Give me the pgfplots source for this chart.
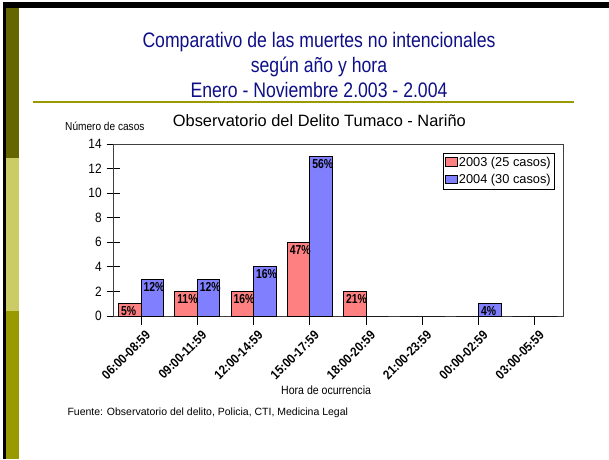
\documentclass[border=0pt]{standalone}
\usepackage{fontspec}
\usepackage{pgfplots}
\pgfplotsset{compat=1.18}
\setmainfont{Liberation Sans}
\newfontfamily\narrowA{Liberation Sans}[FakeStretch=0.84]
\newfontfamily\narrowB{Liberation Sans}[FakeStretch=0.88]
\newfontfamily\narrowC{Liberation Sans}[FakeStretch=0.80]
\definecolor{titleblue}{RGB}{15,15,135}
\definecolor{olivedark}{HTML}{666600}
\definecolor{olivepale}{HTML}{CCCC66}
\definecolor{olivemid}{HTML}{999900}
\definecolor{barred}{HTML}{FF8080}
\definecolor{barblue}{HTML}{8080FF}
\begin{document}
\begin{tikzpicture}
\useasboundingbox (0,0) rectangle (609pt,459pt);
\begin{scope}[x=1pt,y=1pt]
\fill[white] (0,0) rectangle (609,459);
% slide decorations
\fill[black] (3,451) rectangle (609,457.3);
\fill[black] (2.7,0) rectangle (6,457.3);
\fill[olivedark] (6,301) rectangle (19,451);
\fill[olivepale] (6,148) rectangle (19,301);
\fill[olivemid] (6,0) rectangle (19,148);
\draw[olivemid, line width=1.5pt] (33,357) -- (574,357);
% titles
\node[anchor=base, text=titleblue, font=\narrowA\fontsize{21}{24}\selectfont, inner sep=0] at (319,411) {Comparativo de las muertes no intencionales};
\node[anchor=base, text=titleblue, font=\narrowA\fontsize{21}{24}\selectfont, inner sep=0] at (319,386.5) {según año y hora};
\node[anchor=base, text=titleblue, font=\narrowA\fontsize{21}{24}\selectfont, inner sep=0] at (319,362) {Enero - Noviembre 2.003 - 2.004};
\node[anchor=base west, font=\fontsize{16.4}{19}\selectfont, inner sep=0] at (172.7,332.5) {Observatorio del Delito Tumaco - Nariño};
\node[anchor=base west, font=\narrowB\fontsize{11.5}{13}\selectfont, inner sep=0] at (65,328.7) {Número de casos};
\node[anchor=base west, font=\narrowB\fontsize{12}{14}\selectfont, inner sep=0] at (281,65) {Hora de ocurrencia};
\node[anchor=base west, font=\fontsize{10.5}{12}\selectfont, inner sep=0] at (67.3,43.5) {Fuente: Observatorio del delito, Policia, CTI, Medicina Legal};
\end{scope}
\begin{axis}[
  at={(113pt,143pt)}, anchor=south west,
  scale only axis, width=450pt, height=172pt,
  xmin=-0.5, xmax=7.5, ymin=0, ymax=14,
  ybar=0pt, bar width=22.5pt,
  axis line style={black!75, line width=0.8pt},
  xtick={0,...,7},
  xticklabels={06:00-08:59,09:00-11:59,12:00-14:59,15:00-17:59,18:00-20:59,21:00-23:59,00:00-02:59,03:00-05:59},
  ytick={0,2,...,14},
  xtick pos=bottom, ytick pos=left,
  xtick align=outside, ytick align=center,
  xtick style={black, line width=0.8pt, /pgfplots/major tick length=9pt},
  ytick style={black, line width=0.8pt, /pgfplots/major tick length=13pt},
  /pgf/number format/assume math mode=true,
  yticklabel style={font=\narrowB\fontsize{13.5}{15}\selectfont, inner sep=0pt, xshift=-9pt},
  xticklabel style={font=\narrowB\bfseries\fontsize{13}{15}\selectfont, rotate=45, anchor=east, inner sep=0pt, xshift=-4pt, yshift=-14pt},
  point meta=explicit symbolic,
  nodes near coords,
  every node near coord/.append style={anchor=north west, xshift=-9.25pt, yshift=-2.5pt, inner sep=0pt, text=black, font=\narrowC\bfseries\fontsize{13}{15}\selectfont},
  legend style={at={(0.9807,0.9494)}, anchor=north east, draw=black, line width=0.8pt, fill=white,
    font=\fontsize{12.8}{14}\selectfont, inner xsep=2pt, inner ysep=2.5pt, row sep=4.5pt,
    nodes={inner sep=1.2pt}},
  legend cell align=left,
  legend image code/.code={\draw[#1, draw=black, line width=0.8pt] (0pt,-4pt) rectangle (11.5pt,4.3pt);},
]
\addplot[fill=barred, draw=black, line width=0.8pt] coordinates {
  (0,1) [5\%] (1,2) [11\%] (2,2) [16\%] (3,6) [47\%] (4,2) [21\%] (5,0) [{}] (6,0) [{}] (7,0) [{}]
};
\addplot[fill=barblue, draw=black, line width=0.8pt] coordinates {
  (0,3) [12\%] (1,3) [12\%] (2,4) [16\%] (3,13) [56\%] (4,0) [{}] (5,0) [{}] (6,1) [4\%] (7,0) [{}]
};
\legend{2003 (25 casos),2004 (30 casos)}
\end{axis}
\end{tikzpicture}
\end{document}
